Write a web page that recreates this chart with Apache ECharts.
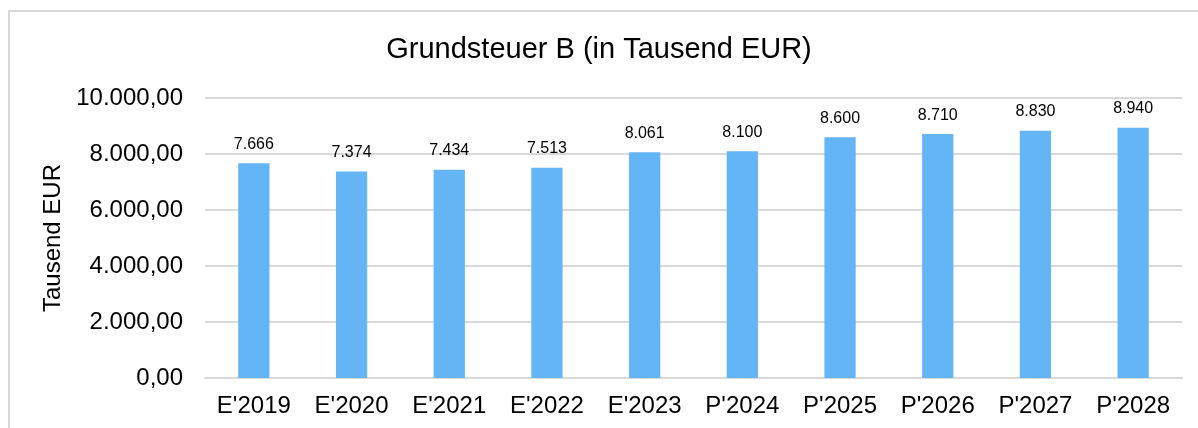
<!DOCTYPE html>
<html>
<head>
<meta charset="utf-8">
<script src="https://cdn.jsdelivr.net/npm/echarts@6/dist/echarts.min.js"></script>
<style>
  html, body { margin: 0; padding: 0; background: #fff; }
  #frame { position: absolute; left: 8px; top: 10px; width: 1200px; height: 430px; border: 2px solid #d9d9d9; box-sizing: border-box; }
  #chart { position: absolute; left: 0; top: 0; width: 1198px; height: 428px; }
</style>
</head>
<body>
<div id="frame"></div>
<div id="chart"></div>
<script>
// Grundsteuer B
var categories = ["E'2019", "E'2020", "E'2021", "E'2022", "E'2023", "P'2024", "P'2025", "P'2026", "P'2027", "P'2028"];
var values = [7666, 7374, 7434, 7513, 8061, 8100, 8600, 8710, 8830, 8940];

function fmtDe(v, dec) {
    var parts = v.toFixed(dec).split('.');
    var intPart = parts[0].replace(/\B(?=(\d{3})+(?!\d))/g, '.');
    return parts.length > 1 ? intPart + ',' + parts[1] : intPart;
}

var chart = echarts.init(document.getElementById('chart'));
var option = {
    animation: false,
    textStyle: { fontFamily: 'Liberation Sans, Arial, sans-serif' },
    title: {
        text: 'Grundsteuer B (in Tausend EUR)',
        left: 'center',
        top: 30,
        textStyle: { fontSize: 29, fontWeight: 'normal', color: '#000' }
    },
    grid: { left: 205, right: 16, top: 98, bottom: 50 },
    xAxis: {
        type: 'category',
        data: categories,
        axisLine: { lineStyle: { color: '#d9d9d9', width: 2 } },
        axisTick: { show: false },
        axisLabel: { fontSize: 24, color: '#000', margin: 16 }
    },
    yAxis: {
        type: 'value',
        min: 0,
        max: 10000,
        interval: 2000,
        name: 'Tausend EUR',
        nameLocation: 'middle',
        nameGap: 136,
        nameTextStyle: { fontSize: 24, color: '#000' },
        axisLine: { show: false },
        axisTick: { show: false },
        splitLine: { lineStyle: { color: '#d9d9d9', width: 2 } },
        axisLabel: {
            fontSize: 24, color: '#000', margin: 22,
            formatter: function (v) { return fmtDe(v, 2); }
        }
    },
    series: [{
        type: 'bar',
        data: values,
        barWidth: '32%',
        itemStyle: { color: '#64b5f6' },
        label: {
            show: true,
            position: 'top',
            distance: 11,
            fontSize: 16,
            color: '#000',
            formatter: function (p) { return fmtDe(p.value, 0); }
        }
    }]
};
chart.setOption(option);
</script>
</body>
</html>
